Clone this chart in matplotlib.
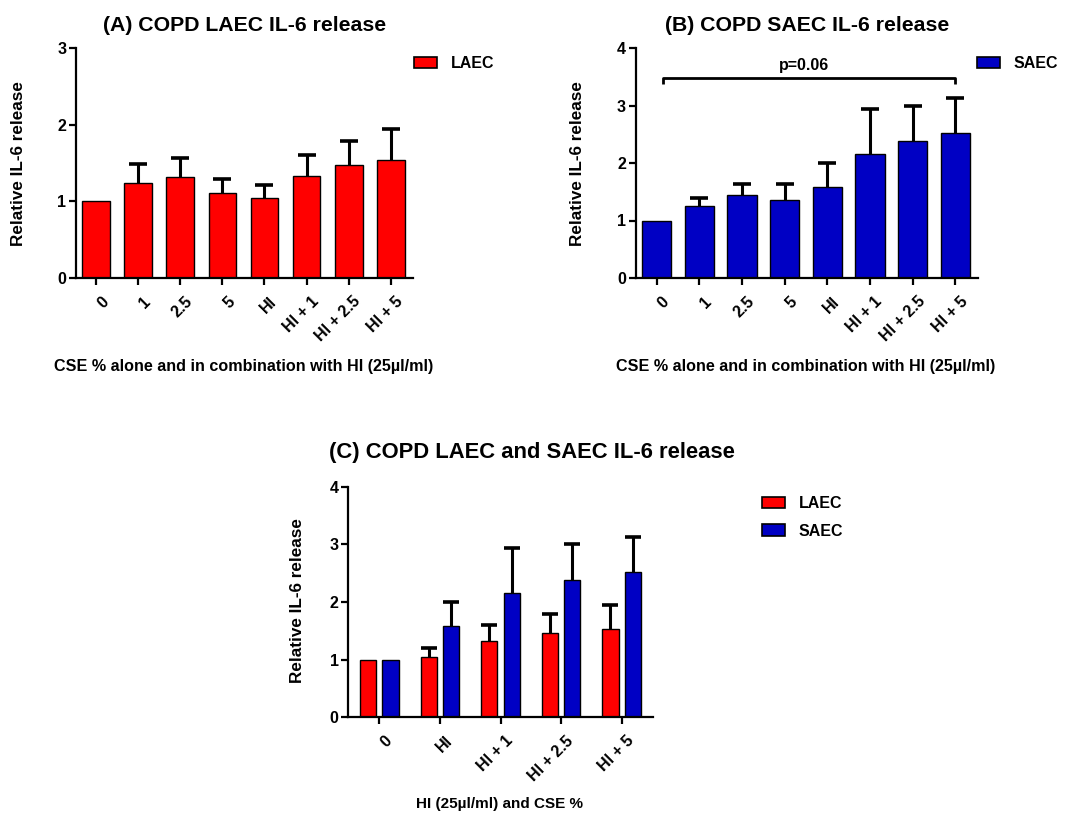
import matplotlib
matplotlib.use("Agg")
import matplotlib.pyplot as plt
from matplotlib.patches import Patch
from matplotlib.transforms import ScaledTranslation
import numpy as np

plt.rcParams['font.family'] = ['Liberation Sans', 'DejaVu Sans']
plt.rcParams['font.weight'] = 'bold'

# Data
cse_labels = ['0', '1', '2.5', '5', 'HI', 'HI + 1', 'HI + 2.5', 'HI + 5']
laec_mean = [1.00, 1.24, 1.32, 1.11, 1.05, 1.33, 1.47, 1.54]
laec_sem = [0.00, 0.25, 0.24, 0.18, 0.16, 0.27, 0.32, 0.41]
saec_mean = [1.00, 1.26, 1.44, 1.36, 1.59, 2.16, 2.38, 2.52]
saec_sem = [0.00, 0.13, 0.20, 0.27, 0.41, 0.78, 0.62, 0.61]

combo_labels = ['0', 'HI', 'HI + 1', 'HI + 2.5', 'HI + 5']
combo_idx = [0, 4, 5, 6, 7]

p_text = 'p=0.06'

RED = '#FF0000'
BLUE = '#0000C4'

W, H = 1072, 814
DPI = 100
fig = plt.figure(figsize=(W / DPI, H / DPI), dpi=DPI)


def px_axes(left, right, top, bottom):
    return fig.add_axes([left / W, 1 - bottom / H, (right - left) / W, (bottom - top) / H])


def px_text(x, y, s, **kw):
    return fig.text(x / W, 1 - y / H, s, **kw)


def style_axes(ax, ymax, ysize=11.5):
    for s in ['top', 'right']:
        ax.spines[s].set_visible(False)
    for s in ['left', 'bottom']:
        ax.spines[s].set_linewidth(1.6)
    ax.set_ylim(0, ymax)
    ax.set_yticks(range(0, ymax + 1))
    ax.tick_params(axis='both', width=1.6, length=5, direction='out')
    ax.tick_params(axis='y', pad=2, labelsize=ysize)
    for lab in ax.get_yticklabels():
        lab.set_fontweight('bold')


def draw_bars(ax, x, vals, errs, color, width, cap_ms):
    x = np.asarray(x, dtype=float)
    vals = np.asarray(vals, dtype=float)
    errs = np.asarray(errs, dtype=float)
    ax.bar(x, vals, width=width, color=color, edgecolor='black', linewidth=1.0, zorder=2)
    # upper-only error bars with a single cap
    has_err = errs > 0
    ax.vlines(x[has_err], vals[has_err], vals[has_err] + errs[has_err], color='black',
              linewidth=2.2, zorder=3)
    ax.plot(x[has_err], vals[has_err] + errs[has_err], linestyle='none', marker='_',
            markersize=cap_ms, markeredgewidth=2.6, color='black', zorder=3)


def set_xlabels(ax, labels, size):
    ax.set_xticks(range(len(labels)))
    ax.set_xticklabels(labels, rotation=45, ha='right', va='top', rotation_mode='anchor',
                       fontsize=size, fontweight='bold')
    shift = ScaledTranslation(4.5 / DPI, -4 / DPI, fig.dpi_scale_trans)
    for lab in ax.get_xticklabels():
        lab.set_transform(lab.get_transform() + shift)


def legend(handles, x, y, loc='center left', hl=1.45, tp=0.85, ls=0.65):
    fig.legend(handles=handles, loc=loc, bbox_to_anchor=(x / W, 1 - y / H), frameon=False,
               handlelength=hl, handleheight=0.75, handletextpad=tp, labelspacing=ls,
               borderaxespad=0, borderpad=0, prop={'weight': 'bold', 'size': 11.5})


x8 = np.arange(len(cse_labels))
xlabel_ab = 'CSE % alone and in combination with HI (25\u00b5l/ml)'
ylabel = 'Relative IL-6 release'

# (A) LAEC
axA = px_axes(76, 413, 48, 278)
draw_bars(axA, x8, laec_mean, laec_sem, RED, 0.66, 13)
style_axes(axA, 3)
axA.set_xlim(-0.48, 7.53)
set_xlabels(axA, cse_labels, 11.5)
axA.set_title('(A) COPD LAEC IL-6 release', fontsize=15.3, fontweight='bold', pad=12)
px_text(19, 163.5, ylabel, rotation=90, ha='center', va='center', fontsize=12.3, fontweight='bold')
px_text(244, 366, xlabel_ab, ha='center', va='center', fontsize=11.6, fontweight='bold')
legend([Patch(facecolor=RED, edgecolor='black', linewidth=1.2, label='LAEC')], 414, 63.5)

# (B) SAEC
axB = px_axes(635.7, 978, 48, 278)
draw_bars(axB, x8, saec_mean, saec_sem, BLUE, 0.69, 13)
style_axes(axB, 4)
axB.set_xlim(-0.49, 7.53)
set_xlabels(axB, cse_labels, 11.5)
axB.set_title('(B) COPD SAEC IL-6 release', fontsize=15.3, fontweight='bold', pad=12)
px_text(577, 163.5, ylabel, rotation=90, ha='center', va='center', fontsize=12.3, fontweight='bold')
px_text(806, 366, xlabel_ab, ha='center', va='center', fontsize=11.6, fontweight='bold')
# significance bracket between CSE 0 and HI + 5
y_br, y_tip = 3.48, 3.38
axB.plot([0.15, 0.15, 7.0, 7.0], [y_tip, y_br, y_br, y_tip], color='black', lw=2.0,
         solid_capstyle='butt', zorder=4)
axB.text(3.45, y_br + 0.08, p_text, ha='center', va='bottom', fontsize=11.5, fontweight='bold')
legend([Patch(facecolor=BLUE, edgecolor='black', linewidth=1.2, label='SAEC')], 976.5, 63.5)

# (C) LAEC vs SAEC
axC = px_axes(348.3, 652.7, 486.7, 717.3)
x5 = np.arange(len(combo_labels))
draw_bars(axC, x5 - 0.186, [laec_mean[i] for i in combo_idx], [laec_sem[i] for i in combo_idx],
          RED, 0.265, 11)
draw_bars(axC, x5 + 0.186, [saec_mean[i] for i in combo_idx], [saec_sem[i] for i in combo_idx],
          BLUE, 0.265, 11)
style_axes(axC, 4)
axC.set_xlim(-0.51, 4.51)
set_xlabels(axC, combo_labels, 11.5)
px_text(532, 452, '(C) COPD LAEC and SAEC IL-6 release', ha='center', va='center',
        fontsize=15.8, fontweight='bold')
px_text(298, 601, ylabel, rotation=90, ha='center', va='center', fontsize=12.3, fontweight='bold')
px_text(500, 804, 'HI (25\u00b5l/ml) and CSE %', ha='center', va='center',
        fontsize=11, fontweight='bold')
legend([Patch(facecolor=RED, edgecolor='black', linewidth=1.2, label='LAEC'),
        Patch(facecolor=BLUE, edgecolor='black', linewidth=1.2, label='SAEC')],
       762, 496, loc='upper left', hl=1.45, tp=0.85, ls=0.8)

fig.savefig('out.png', dpi=DPI, facecolor='white')
